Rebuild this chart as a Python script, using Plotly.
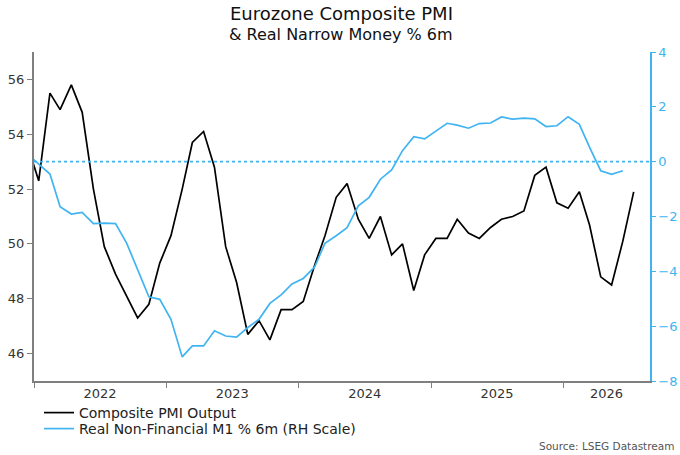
import plotly.graph_objects as go
import pandas as pd

# ---- data (monthly, plotted mid-month) ----
pmi_dates = pd.date_range("2021-12-01", "2026-07-01", freq="MS") + pd.Timedelta(days=13)
pmi_values = [53.6,
              52.3, 55.5, 54.9, 55.8, 54.8, 52.0, 49.9, 48.9, 48.1, 47.3, 47.8, 49.3,
              50.3, 52.0, 53.7, 54.1, 52.8, 49.9, 48.6, 46.7, 47.2, 46.5, 47.6, 47.6,
              47.9, 49.2, 50.3, 51.7, 52.2, 50.9, 50.2, 51.0, 49.6, 50.0, 48.3, 49.6,
              50.2, 50.2, 50.9, 50.4, 50.2, 50.6, 50.9, 51.0, 51.2, 52.5, 52.8, 51.5,
              51.3, 51.9, 50.7, 48.8, 48.5, 50.1, 51.9]

m1_dates = pd.date_range("2021-12-01", "2026-06-01", freq="MS") + pd.Timedelta(days=13)
m1_values = [0.28,
             -0.08, -0.45, -1.64, -1.91, -1.85, -2.26, -2.24, -2.26, -2.98, -3.95, -4.93, -5.02,
             -5.75, -7.12, -6.72, -6.72, -6.17, -6.36, -6.40, -6.05, -5.75, -5.17, -4.86, -4.46,
             -4.26, -3.85, -2.98, -2.70, -2.41, -1.61, -1.30, -0.64, -0.30, 0.40, 0.91, 0.83,
             1.12, 1.40, 1.33, 1.22, 1.39, 1.41, 1.63, 1.55, 1.59, 1.56, 1.28, 1.31,
             1.64, 1.36, 0.53, -0.33, -0.46, -0.33]

year_ticks = ["2022-01-01", "2023-01-01", "2024-01-01", "2025-01-01", "2026-01-01"]
year_label_pos = ["2022-07-02", "2023-07-02", "2024-07-02", "2025-07-02", "2026-04-30"]
year_labels = ["2022", "2023", "2024", "2025", "2026"]
x_range = ["2022-01-01", "2026-08-28"]

left_ticks = [46, 48, 50, 52, 54, 56]
right_ticks = [-8, -6, -4, -2, 0, 2, 4]

BLUE = "#40B4F2"
GRAY = "#7f7f7f"
FONT = "DejaVu Sans"

# plot area in pixels (for placing text around it)
L, R, T, B = 34, 650, 52, 381
W, H = 680, 455
def px(xp):
    return (xp - L) / (R - L)
def py(yp):
    return (B - yp) / (B - T)

fig = go.Figure()
fig.add_trace(go.Scatter(x=pmi_dates, y=pmi_values, mode="lines",
                         name="Composite PMI Output", legend="legend",
                         line=dict(color="#000000", width=1.7)))
fig.add_trace(go.Scatter(x=m1_dates, y=m1_values, mode="lines",
                         name="Real Non-Financial M1 % 6m (RH Scale)", legend="legend2",
                         line=dict(color=BLUE, width=1.7), yaxis="y2"))

fig.add_shape(type="line", xref="paper", x0=0, x1=1, yref="y2", y0=0, y1=0,
              line=dict(color=BLUE, width=1.6, dash="dot"))

leg_common = dict(xref="container", yref="container", xanchor="left", yanchor="middle",
                  font=dict(size=14, color="#222222", family=FONT),
                  bgcolor="rgba(0,0,0,0)", itemwidth=30)

fig.update_layout(
    width=W, height=H,
    margin=dict(l=L, r=W - R, t=T, b=H - B, autoexpand=False),
    paper_bgcolor="white", plot_bgcolor="white",
    font=dict(family=FONT, size=13, color="#333333"),
    showlegend=True,
    legend=dict(x=39 / W, y=1 - 413 / H, **leg_common),
    legend2=dict(x=39 / W, y=1 - 429 / H, **leg_common),
    xaxis=dict(type="date", range=x_range, showgrid=False, zeroline=False,
               showline=True, linecolor=GRAY, linewidth=1.5,
               tickmode="array", tickvals=year_label_pos, ticktext=year_labels,
               ticks="outside", ticklen=0, tickfont=dict(size=13, color="#333333"),
               minor=dict(tickmode="array", tickvals=year_ticks, ticks="outside",
                          ticklen=5, tickcolor=GRAY, tickwidth=1.2, showgrid=False)),
    yaxis=dict(range=[45, 57], tickvals=left_ticks, showgrid=False, zeroline=False,
               showline=True, linecolor=GRAY, linewidth=2,
               ticks="outside", ticklen=5, tickcolor=GRAY, tickwidth=1.2,
               tickfont=dict(size=13, color="#333333")),
    yaxis2=dict(range=[-8, 4], tickvals=right_ticks, overlaying="y", side="right",
                showgrid=False, zeroline=False, showline=True, linecolor=BLUE, linewidth=1.5,
                ticks="outside", ticklen=4, tickcolor=BLUE, tickwidth=1.2,
                tickfont=dict(size=13, color=BLUE)),
)

fig.add_annotation(text="Eurozone Composite PMI", xref="paper", yref="paper",
                   x=px(341), y=py(14), xanchor="center", yanchor="middle", showarrow=False,
                   font=dict(size=18, color="#111111", family=FONT))
fig.add_annotation(text="&amp; Real Narrow Money % 6m", xref="paper", yref="paper",
                   x=px(341), y=py(35), xanchor="center", yanchor="middle", showarrow=False,
                   font=dict(size=16, color="#111111", family=FONT))
fig.add_annotation(text="Source: LSEG Datastream", xref="paper", yref="paper",
                   x=px(676), y=py(446), xanchor="right", yanchor="middle", showarrow=False,
                   font=dict(size=10.5, color="#555555", family=FONT))

fig.write_html("out.html")
